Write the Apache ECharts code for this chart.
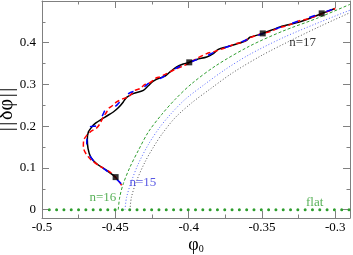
<!DOCTYPE html>
<html>
<head>
<meta charset="utf-8">
<script src="https://cdn.jsdelivr.net/npm/echarts@6/dist/echarts.min.js"></script>
<style>html,body{margin:0;padding:0;background:#fff}#c{width:353px;height:255px}</style>
</head>
<body>
<div id="c"></div>
<script>
// ---- data ----
const mainBlack = [
  [-0.4498,0.078],[-0.4559,0.094],[-0.4627,0.110],[-0.4668,0.126],[-0.4686,0.146],
  [-0.4691,0.168],[-0.4684,0.186],[-0.4665,0.196],[-0.4639,0.206],[-0.4570,0.222],
  [-0.4514,0.234],[-0.4480,0.244],[-0.4446,0.258],[-0.4423,0.269],[-0.4378,0.278],
  [-0.4309,0.286],[-0.4275,0.297],[-0.4241,0.308],[-0.4195,0.316],[-0.4161,0.320],
  [-0.4127,0.330],[-0.4082,0.342],[-0.4037,0.349],[-0.3996,0.353],[-0.3945,0.360],
  [-0.3877,0.366],[-0.3832,0.374],[-0.3798,0.384],[-0.3741,0.390],[-0.3673,0.397],
  [-0.3604,0.406],[-0.3582,0.413],[-0.3495,0.422],[-0.3377,0.438],[-0.3241,0.450],
  [-0.3150,0.462],[-0.3093,0.470],[-0.3002,0.482]
];
const mainRed = [
  [-0.4457,0.058],[-0.4480,0.070],[-0.4536,0.090],[-0.4605,0.104],[-0.4661,0.118],
  [-0.4700,0.134],[-0.4718,0.150],[-0.4716,0.166],[-0.4695,0.178],[-0.4665,0.188],
  [-0.4627,0.196],[-0.4605,0.206],[-0.4582,0.222],[-0.4559,0.234],[-0.4548,0.242],
  [-0.4521,0.249],[-0.4491,0.258],[-0.4446,0.266],[-0.4412,0.270],[-0.4388,0.278],
  [-0.4366,0.286],[-0.4332,0.290],[-0.4298,0.300],[-0.4275,0.302],[-0.4241,0.310],
  [-0.4218,0.316],[-0.4195,0.318],[-0.4161,0.324],[-0.4105,0.334],[-0.4040,0.344],
  [-0.3990,0.352],[-0.3945,0.362],[-0.3877,0.374],[-0.3832,0.378],[-0.3764,0.386],
  [-0.3707,0.394],[-0.3673,0.398],[-0.3627,0.402],[-0.3593,0.410],[-0.3520,0.420],
  [-0.3450,0.426],[-0.3380,0.436],[-0.3320,0.442],[-0.3250,0.452],[-0.3180,0.458],
  [-0.3100,0.468],[-0.3030,0.478],[-0.3000,0.482]
];
const mainBlue = [
  [-0.4460,0.062],[-0.4500,0.076],[-0.4570,0.096],[-0.4640,0.114],[-0.4680,0.134],
  [-0.4695,0.160],[-0.4685,0.186],[-0.4670,0.199],[-0.4627,0.201],[-0.4590,0.224],
  [-0.4560,0.243],[-0.4502,0.247],[-0.4460,0.262],[-0.4420,0.276],[-0.4378,0.283],
  [-0.4333,0.286],[-0.4290,0.298],[-0.4240,0.311],[-0.4196,0.314],[-0.4140,0.326],
  [-0.4080,0.340],[-0.4000,0.352],[-0.3940,0.360],[-0.3880,0.368],[-0.3800,0.382],
  [-0.3720,0.392],[-0.3640,0.402],[-0.3560,0.414],[-0.3490,0.422],[-0.3400,0.434],
  [-0.3300,0.446],[-0.3200,0.458],[-0.3100,0.470],[-0.3010,0.481]
];
const squareMarks = [[-0.4498,0.078],[-0.3996,0.353],[-0.3495,0.4224],[-0.3093,0.4704]];
const n16 = [
  [-0.4480,0.000],[-0.4470,0.030],[-0.4446,0.062],[-0.4400,0.102],[-0.4343,0.142],
  [-0.4275,0.186],[-0.4184,0.228],[-0.4093,0.264],[-0.3979,0.302],[-0.3810,0.346],
  [-0.3584,0.392],[-0.3357,0.428],[-0.3129,0.458],[-0.2900,0.492]
];
const n15 = [
  [-0.4434,0.000],[-0.4423,0.030],[-0.4388,0.070],[-0.4343,0.110],[-0.4275,0.156],
  [-0.4200,0.196],[-0.4120,0.230],[-0.4025,0.264],[-0.3900,0.298],[-0.3750,0.336],
  [-0.3584,0.372],[-0.3357,0.412],[-0.3129,0.446],[-0.2900,0.478]
];
const n17 = [
  [-0.4400,0.000],[-0.4390,0.030],[-0.4354,0.070],[-0.4298,0.114],[-0.4240,0.150],
  [-0.4180,0.182],[-0.4093,0.220],[-0.3979,0.256],[-0.3850,0.290],[-0.3700,0.328],
  [-0.3500,0.370],[-0.3300,0.406],[-0.3100,0.440],[-0.2900,0.472]
];
const flatLine = [[-0.5,0],[-0.29,0]];
const annoText = ['n=17','n=16','n=15','flat'];
const annoX = [-0.3223,-0.4585,-0.4312,-0.3141];
const annoY = [0.400,0.0295,0.0655,0.0175];
const xTickLabels = ['-0.5','-0.45','-0.4','-0.35','-0.3'];
const yTickLabels = ['0','0.1','0.2','0.3','0.4'];

// ---- styling ----
const SERIF = 'Liberation Serif';
const AX = '#808080';
const GREEN = '#2e9e2e';
const BLUE = '#3030dd';
const annoColor = ['#000000', GREEN, BLUE, GREEN];
const HS = '\u200A';

function xAx(pos, interval, len, showLine, showLabel, extra) {
  return Object.assign({
    type:'value', position:pos, min:-0.5, max:-0.29, interval:interval,
    axisLine:{show:showLine, onZero:false, lineStyle:{color:AX, width:1}},
    axisTick:{show:true, inside:true, length:len, lineStyle:{color:AX, width:1}},
    axisLabel:{show:showLabel, margin:3, color:'#000', fontFamily:SERIF, fontSize:13,
      showMaxLabel:false,
      formatter:(v)=>{const s = String(+v.toFixed(3)); return xTickLabels.includes(s)? s : '';}},
    splitLine:{show:false}
  }, extra||{});
}
function yAx(pos, step, len, showLine, showLabel, extra) {
  return Object.assign({
    type:'value', position:pos, min:-0.02, max:0.5, minInterval:step, maxInterval:step, splitNumber:Math.round(0.52/step),
    axisLine:{show:showLine, onZero:false, lineStyle:{color:AX, width:1}},
    axisTick:{show:true, inside:true, length:len, lineStyle:{color:AX, width:1}},
    axisLabel:{show:showLabel, margin:6, color:'#000', fontFamily:SERIF, fontSize:13,
      formatter:(v)=>{const s = String(+v.toFixed(3)); return yTickLabels.includes(s)? s : '';}},
    splitLine:{show:false}
  }, extra||{});
}

const chart = echarts.init(document.getElementById('c'), null, {renderer:'canvas'});
const annoData = annoText.map((t,i)=>({value:[annoX[i], annoY[i]], name:t,
  label:{color:annoColor[i]}}));

chart.setOption({
  animation:false,
  grid:{left:42, right:3, top:1, bottom:37, containLabel:false, outerBoundsMode:'none'},
  xAxis:[
    xAx('bottom', 0.05, 7, true, true, {
      name:'{p|φ}{s|0}', nameLocation:'middle', nameGap:16, nameMoveOverlap:false,
      nameTextStyle:{rich:{
        p:{fontFamily:SERIF, fontSize:18, color:'#000', verticalAlign:'bottom', lineHeight:20},
        s:{fontFamily:SERIF, fontSize:10, color:'#000', verticalAlign:'bottom', lineHeight:10}
      }}
    }),
    xAx('bottom', 0.025, 3.5, false, false),
    xAx('top', 0.05, 7, true, false),
    xAx('top', 0.025, 3.5, false, false)
  ],
  yAxis:[
    yAx('left', 0.1, 7, true, true, {
      name:'|'+HS+'|'+HS+'δφ'+HS+'|'+HS+'|', nameLocation:'middle', nameGap:25, nameRotate:90,
      nameMoveOverlap:false,
      nameTextStyle:{fontFamily:SERIF, fontSize:20, color:'#000'}
    }),
    yAx('left', 0.05, 3.5, false, false),
    yAx('right', 0.1, 7, true, false),
    yAx('right', 0.05, 3.5, false, false)
  ],
  series:[
    {type:'line', data:flatLine, symbol:'none', silent:true,
      lineStyle:{color:GREEN, width:3, type:[0.01,7.3], cap:'round', dashOffset:-7.3}},
    {type:'line', data:n17, symbol:'none', smooth:0.3,
      lineStyle:{color:'#555555', width:1, type:[1,2]}},
    {type:'line', data:n15, symbol:'none', smooth:0.3,
      lineStyle:{color:'#5566ff', width:1, type:[1,2]}},
    {type:'line', data:n16, symbol:'none', smooth:0.3,
      lineStyle:{color:GREEN, width:1, type:[3,2]}},
    {type:'line', data:mainBlack, symbol:'none', smooth:0.3,
      lineStyle:{color:'#000', width:1.5}},
    {type:'line', data:mainRed, symbol:'none', smooth:0.3,
      lineStyle:{color:'#ff0000', width:1.5, type:[5,3]}},
    {type:'line', data:mainBlue, symbol:'none', smooth:0.3,
      lineStyle:{color:'#0000ff', width:1.5, type:[6,12]}},
    {type:'scatter', data:squareMarks, symbol:'rect', symbolSize:6, z:6,
      itemStyle:{color:'#000', borderWidth:0}},
    {type:'scatter', data:annoData, symbolSize:0, z:6,
      label:{show:true, position:'inside', formatter:(p)=>p.name,
        fontFamily:SERIF, fontSize:13}}
  ]
});
</script>
</body>
</html>
